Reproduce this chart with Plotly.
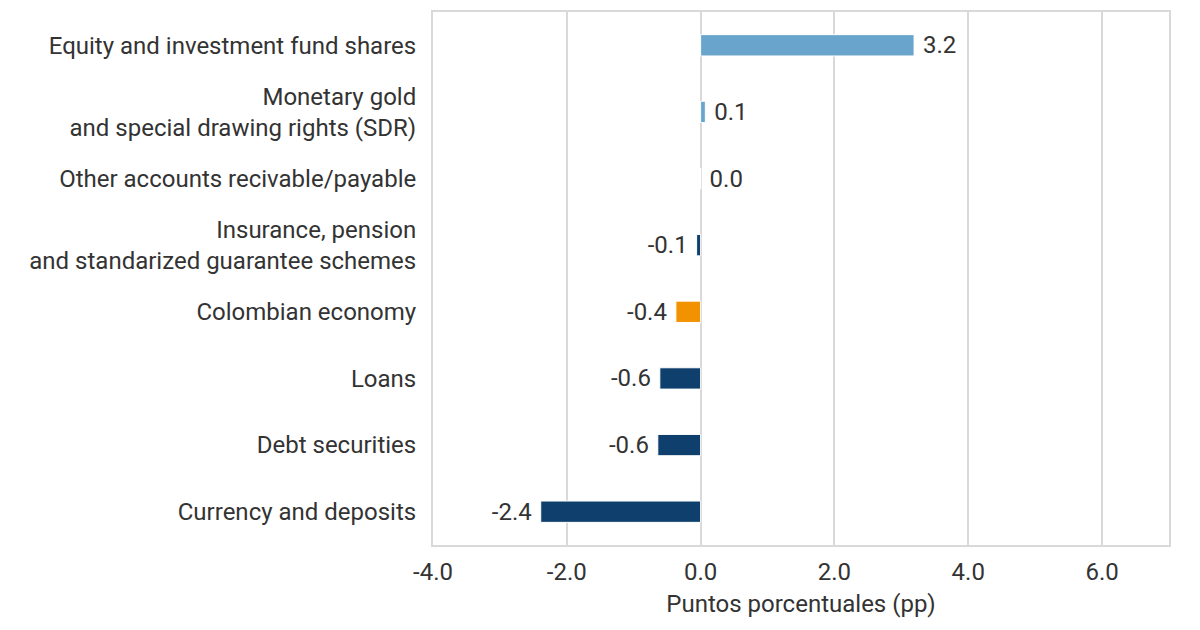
import plotly.graph_objects as go

categories = [
    "Equity and investment fund shares",
    "Monetary gold<br>and special drawing rights (SDR)",
    "Other accounts recivable/payable",
    "Insurance, pension<br>and standarized guarantee schemes",
    "Colombian economy",
    "Loans",
    "Debt securities",
    "Currency and deposits",
]
values = [3.19, 0.07, 0.0, -0.06, -0.37, -0.61, -0.64, -2.39]
colors = ["#68A4CB", "#68A4CB", "#68A4CB", "#0F3F6D", "#F39200", "#0F3F6D", "#0F3F6D", "#0F3F6D"]
x_ticks = [-4, -2, 0, 2, 4, 6]
x_tick_labels = ["-4.0", "-2.0", "0.0", "2.0", "4.0", "6.0"]

labels = [(" " + f"{v:.1f}") if v >= 0 else (f"{v:.1f}" + " ") for v in values]

fig = go.Figure(go.Bar(
    x=values,
    y=categories,
    orientation="h",
    marker=dict(color=colors, line=dict(color="white", width=1)),
    width=0.32,
    text=labels,
    textposition="outside",
    constraintext="none",
    cliponaxis=False,
    textfont=dict(size=24, color="#333333", family="Roboto"),
))

fig.update_layout(
    width=1200, height=630,
    margin=dict(l=425, r=39, t=2, b=93),
    paper_bgcolor="white", plot_bgcolor="white",
    font=dict(family="Roboto", size=24, color="#333333"),
    showlegend=False,
)
fig.update_xaxes(
    range=[-4, 7],
    tickvals=x_ticks, ticktext=x_tick_labels,
    showgrid=True, gridcolor="#D9D9D9", gridwidth=2,
    zeroline=True, zerolinecolor="#D9D9D9", zerolinewidth=2,
    showline=True, linecolor="#D9D9D9", linewidth=2, mirror=True,
    ticks="", ticklabelstandoff=4, tickfont=dict(size=24, color="#333333"),
    title=dict(text="Puntos porcentuales (pp)", font=dict(size=24, color="#333333"), standoff=10),
)
fig.update_yaxes(
    categoryorder="array", categoryarray=categories[::-1],
    showgrid=False, zeroline=False,
    showline=True, linecolor="#D9D9D9", linewidth=2, mirror=True,
    ticks="", ticklabelstandoff=10,
    tickfont=dict(size=24, color="#333333"),
)

fig.write_html("out.html")
